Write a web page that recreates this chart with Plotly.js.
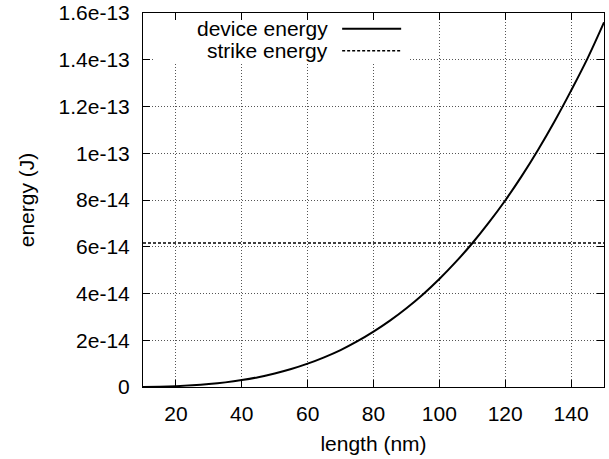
<!DOCTYPE html>
<html>
<head>
<meta charset="utf-8">
<script src="https://cdn.plot.ly/plotly-3.0.1.min.js"></script>
<style>html,body{margin:0;padding:0;background:#fff;}#chart{width:609px;height:459px;}</style>
</head>
<body>
<div id="chart"></div>
<script>
const lengthNm = [10,15,20,25,30,35,40,45,50,55,60,65,70,75,80,85,90,95,100,105,110,115,120,125,130,135,140,145,150];
const deviceEnergy = [0.05e-15,0.16e-15,0.37e-15,0.72e-15,1.25e-15,1.98e-15,2.96e-15,4.2e-15,5.8e-15,7.7e-15,
  1.0e-14,1.27e-14,1.58e-14,1.95e-14,2.37e-14,2.84e-14,3.37e-14,3.96e-14,4.62e-14,5.35e-14,
  6.15e-14,7.03e-14,7.98e-14,9.02e-14,1.015e-13,1.137e-13,1.268e-13,1.406e-13,1.56e-13];
const strikeX = [10,150];
const strikeEnergy = [6.16e-14,6.16e-14];
const xTicks = [20,40,60,80,100,120,140];
const yTickVals = [0,2e-14,4e-14,6e-14,8e-14,1e-13,1.2e-13,1.4e-13,1.6e-13];
const yTickText = ["0","2e-14","4e-14","6e-14","8e-14","1e-13","1.2e-13","1.4e-13","1.6e-13"];
const seriesNames = ["device energy","strike energy"];

const font = {family:"Liberation Sans, Arial, Helvetica, sans-serif", size:21, color:"#000"};

const traces = [
  {x:lengthNm, y:deviceEnergy, mode:"lines", name:seriesNames[0], line:{color:"#000", width:2, shape:"spline"}},
  {x:strikeX, y:strikeEnergy, mode:"lines", name:seriesNames[1], line:{color:"#000", width:1.5, dash:"3px,2px"}}
];

const axisCommon = {
  showline:true, linecolor:"#000", linewidth:1, mirror:"allticks",
  ticks:"inside", ticklen:7, tickcolor:"#000", tickwidth:1,
  showgrid:true, gridcolor:"#555", griddash:"1px,2px", gridwidth:1,
  zeroline:false, tickfont:font
};

const layout = {
  width:609, height:459,
  margin:{l:143, r:5, t:13, b:72},
  paper_bgcolor:"#fff", plot_bgcolor:"#fff",
  showlegend:false,
  font:font,
  xaxis:Object.assign({}, axisCommon, {
    range:[10,150], tickvals:xTicks, ticklabelstandoff:8,
    title:{text:"length (nm)", font:font, standoff:12}
  }),
  yaxis:Object.assign({}, axisCommon, {
    range:[0,1.6e-13], tickvals:yTickVals, ticktext:yTickText, ticklabelstandoff:8,
    title:{text:"energy (J)", font:font, standoff:18}
  }),
  shapes:[
    {type:"rect", xref:"x", yref:"y", x0:13.6, x1:91, y0:1.386e-13, y1:1.598e-13,
     fillcolor:"#fff", line:{width:0}, layer:"between"},
    {type:"line", xref:"x domain", yref:"y domain", x0:0.432, x1:0.56, y0:0.958, y1:0.958,
     line:{color:"#000", width:2}},
    {type:"line", xref:"x domain", yref:"y domain", x0:0.432, x1:0.56, y0:0.899, y1:0.899,
     line:{color:"#000", width:1.5, dash:"3px,2px"}}
  ],
  annotations:[
    {xref:"x domain", yref:"y domain", x:0.405, y:0.958, xanchor:"right", yanchor:"middle",
     text:seriesNames[0], showarrow:false, font:font},
    {xref:"x domain", yref:"y domain", x:0.405, y:0.899, xanchor:"right", yanchor:"middle",
     text:seriesNames[1], showarrow:false, font:font}
  ]
};

Plotly.newPlot("chart", traces, layout, {staticPlot:true, displayModeBar:false});
</script>
</body>
</html>
